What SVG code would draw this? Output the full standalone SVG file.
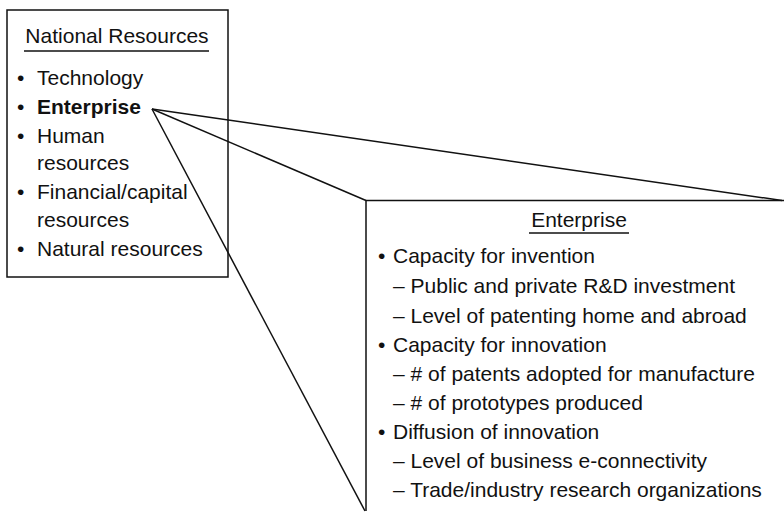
<svg xmlns="http://www.w3.org/2000/svg" width="784" height="512" viewBox="0 0 784 512">
<style>
text{font-family:"Liberation Sans",Arial,sans-serif;font-size:21px;fill:#111}
.b{font-weight:bold}
.box{fill:#fff;stroke:#111;stroke-width:1.5}
.ln{stroke:#111;stroke-width:1.5;fill:none}
</style>
<rect width="784" height="512" fill="#fff"/>
<g id="national-resources">
<rect class="box" x="7" y="10" width="221" height="267"/>
<text x="117" y="43" text-anchor="middle">National Resources</text>
<line class="ln" x1="24" y1="51" x2="209" y2="51" stroke-width="1.2"/>
<text x="17" y="85">•</text><text x="37" y="85">Technology</text>
<text x="17" y="114">•</text><text x="37" y="114" class="b">Enterprise</text>
<text x="17" y="143">•</text><text x="37" y="143">Human</text>
<text x="37" y="170">resources</text>
<text x="17" y="199">•</text><text x="37" y="199">Financial/capital</text>
<text x="37" y="227">resources</text>
<text x="17" y="256">•</text><text x="37" y="256">Natural resources</text>
</g>
<g id="connectors">
<line class="ln" x1="152" y1="109" x2="782" y2="200.5"/>
<line class="ln" x1="152" y1="109" x2="366" y2="200.5"/>
<line class="ln" x1="152" y1="109" x2="365" y2="511"/>
</g>
<g id="enterprise">
<polyline class="ln" points="366,511 366,200.5 784,200.5"/>
<text x="579" y="227" text-anchor="middle">Enterprise</text>
<line class="ln" x1="529" y1="233" x2="629" y2="233" stroke-width="1.2"/>
<text x="378" y="263">•</text><text x="393" y="263">Capacity for invention</text>
<text x="393" y="293">– Public and private R&amp;D investment</text>
<text x="393" y="323">– Level of patenting home and abroad</text>
<text x="378" y="352">•</text><text x="393" y="352">Capacity for innovation</text>
<text x="393" y="381">– # of patents adopted for manufacture</text>
<text x="393" y="410">– # of prototypes produced</text>
<text x="378" y="439">•</text><text x="393" y="439">Diffusion of innovation</text>
<text x="393" y="468">– Level of business e-connectivity</text>
<text x="393" y="497">– Trade/industry research organizations</text>
</g>
</svg>
